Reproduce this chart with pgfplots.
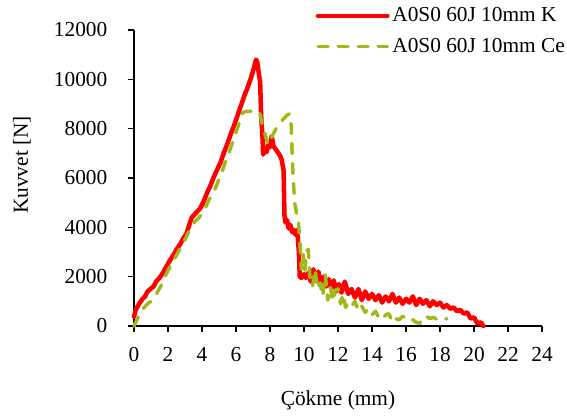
\documentclass[border=0pt]{standalone}
\usepackage{pgfplots}
\pgfplotsset{compat=1.18}
\usepackage{fontspec}
\setmainfont{Liberation Serif}
\definecolor{kred}{RGB}{255,0,0}
\definecolor{cegreen}{RGB}{160,185,25}
\begin{document}
\begin{tikzpicture}[font=\fontsize{16}{19}\selectfont]
\begin{axis}[
  scale only axis,
  width=306pt, height=222pt,
  xmin=0, xmax=24, ymin=0, ymax=12000,
  axis lines=left,
  axis line style={line width=1pt, -},
  xtick={0,2,...,24},
  ytick={0,2000,...,12000},
  tick align=outside,
  major tick length=4.5pt,
  tick style={line width=1pt, black},
  /pgf/number format/assume math mode=true,
  /pgf/number format/1000 sep={},
  scaled y ticks=false,
  xticklabel style={yshift=-8pt},
  yticklabel style={xshift=-12pt},
  xlabel={Çökme (mm)},
  ylabel={Kuvvet [N]},
  xlabel style={at={(axis description cs:0.5,-0.25)}, anchor=center},
  ylabel style={at={(axis description cs:-0.2745,0.544)}, anchor=center},
  clip=false,
  legend style={draw=none, fill=none, at={(0.445,1.085)}, anchor=north west,
    cells={anchor=west}, row sep=7pt, inner sep=0pt,
    font=\fontsize{16}{19}\selectfont},
  legend image code/.code={\draw[#1] (0pt,0pt) -- (52pt,0pt);},
]
\addplot[color=kred, line width=3.4pt, line join=round, line cap=round] coordinates {
(0,380) (0.1,650) (0.3,900) (0.5,1100) (0.65,1200) (0.8,1400) (1.0,1520) (1.15,1600)
(1.3,1800) (1.5,1950) (1.7,2150) (1.9,2400) (2.1,2650) (2.3,2850) (2.5,3100) (2.7,3300)
(2.9,3550) (3.1,3760) (3.25,4100) (3.4,4400) (3.6,4550) (3.8,4700) (3.9,4780) (4.1,5050)
(4.3,5400) (4.5,5700) (4.7,6050) (4.9,6350) (5.1,6650) (5.3,7050) (5.5,7400) (5.7,7800)
(5.9,8150) (6.1,8550) (6.3,8950) (6.5,9350) (6.7,9700) (6.9,10100) (7.05,10450) (7.18,10800)
(7.25,10700) (7.35,10200) (7.42,9900) (7.48,8500) (7.55,7800) (7.6,6950) (7.7,7200) (7.8,7050)
(7.9,7350) (8.0,7250) (8.1,7700) (8.2,7300) (8.3,7200) (8.4,7100) (8.5,7000) (8.6,6900)
(8.7,6700) (8.8,6300) (8.85,4500) (8.9,4200) (9.0,4300) (9.1,3950) (9.2,4100) (9.3,3800)
(9.4,3900) (9.5,3700) (9.6,3900) (9.7,3000) (9.75,2000) (9.85,1950) (10.0,2100) (10.1,1950)
(10.25,2150) (10.4,1800) (10.55,2300) (10.7,1850) (10.85,2200) (11.0,1700) (11.15,2000) (11.3,1600)
(11.45,1900) (11.6,1550) (11.75,1850) (11.9,1400) (12.05,1700) (12.2,1350) (12.4,1800) (12.6,1300)
(12.8,1500) (13.0,1150) (13.2,1500) (13.4,1050) (13.6,1400) (13.8,1100) (14.0,1300) (14.2,1050)
(14.4,1250) (14.6,950) (14.8,1200) (15.0,1000) (15.2,1300) (15.4,950) (15.6,1150) (15.8,900)
(16.0,1100) (16.2,950) (16.4,1200) (16.6,850) (16.8,1100) (17.0,900) (17.2,1050) (17.4,800)
(17.6,1000) (17.8,850) (18.0,950) (18.2,750) (18.4,850) (18.6,700) (18.8,750) (19.0,600)
(19.2,650) (19.4,500) (19.6,550) (19.8,300) (20.0,350) (20.2,100) (20.4,150) (20.55,0)
};
\addlegendentry{A0S0 60J 10mm K}
\addplot[color=cegreen, line width=2.6pt, line cap=round, line join=round, dash pattern=on 7.5pt off 7.5pt] coordinates {
(0,0) (0.2,300) (0.4,550) (0.6,750) (0.8,900) (1.0,1000) (1.2,1150) (1.4,1400) (1.6,1650)
(1.8,1950) (2.0,2250) (2.2,2500) (2.4,2750) (2.6,3000) (2.8,3250) (3.0,3500) (3.2,3800)
(3.4,4050) (3.6,4250) (3.8,4380) (4.0,4550) (4.2,4800) (4.4,5100) (4.6,5350) (4.8,5600)
(5.0,5950) (5.2,6300) (5.4,6700) (5.6,7050) (5.8,7450) (6.0,7850) (6.2,8250) (6.4,8650)
(6.6,8700) (6.8,8700) (7.0,8700) (7.2,8680) (7.4,8650) (7.5,8300) (7.6,8050) (7.7,7800)
(7.8,7550) (7.9,7350) (8.0,7500) (8.2,7800) (8.4,8050) (8.6,8250) (8.8,8400) (9.0,8550)
(9.15,8600) (9.25,8100) (9.3,7000) (9.35,6200) (9.45,5000) (9.55,4600) (9.65,4400) (9.75,3500)
(9.85,2300) (9.95,2900) (10.05,2200) (10.15,3050) (10.25,3100) (10.35,2000) (10.5,1600) (10.65,2300)
(10.8,1500) (10.95,1750) (11.1,1200) (11.25,2100) (11.4,1050) (11.55,1600) (11.7,1000) (11.85,1450)
(12.0,1500) (12.15,900) (12.3,1300) (12.45,750) (12.6,950) (12.8,800) (13.0,1000) (13.2,600)
(13.4,800) (13.6,550) (13.8,700) (14.0,450) (14.2,600) (14.4,350) (14.6,250) (14.8,450)
(15.0,500) (15.2,150) (15.4,300) (15.6,250) (15.8,400) (16.0,300) (16.2,200) (16.4,250)
(16.6,150) (16.8,100) (17.0,350) (17.2,400) (17.4,300) (17.6,350) (17.8,280) (18.0,250)
(18.2,250) (18.4,300)
};
\addlegendentry{A0S0 60J 10mm Ce}
\end{axis}
\pgfresetboundingbox
\path ([shift={(-100.5pt,-67.5pt)}]current axis.south west) rectangle ([shift={(324.75pt,244.5pt)}]current axis.south west);
\end{tikzpicture}
\end{document}
